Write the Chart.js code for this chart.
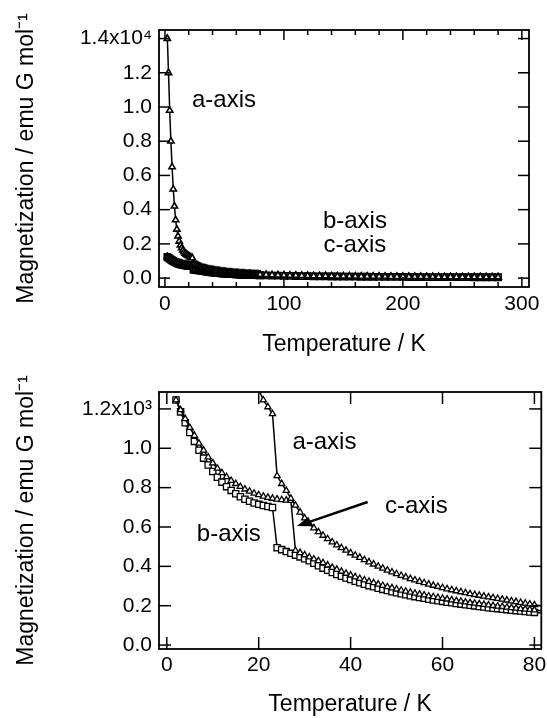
<!DOCTYPE html>
<html>
<head>
<meta charset="utf-8">
<script src="https://cdn.jsdelivr.net/npm/chart.js@4.4.1/dist/chart.umd.min.js"></script>
<style>
  html, body { margin: 0; padding: 0; background: #fff; }
  .panel { position: absolute; left: 0; width: 547px; }
  #top { top: 0; height: 360px; }
  #bottom { top: 360px; height: 358px; }
</style>
</head>
<body>
<div class="panel" id="top"><canvas id="chartTop"></canvas></div>
<div class="panel" id="bottom"><canvas id="chartBottom"></canvas></div>
<script>
// temperature (K)
const temps = [
  2, 3, 4, 5, 6, 7, 8, 9, 10,
  11, 12, 13, 14, 15, 16, 17, 18, 19, 20,
  21, 22, 23, 24, 25, 26, 27, 28, 29, 30,
  31, 32, 33, 34, 35, 36, 37, 38, 39, 40,
  41, 42, 43, 44, 45, 46, 47, 48, 49, 50,
  51, 52, 53, 54, 55, 56, 57, 58, 59, 60,
  61, 62, 63, 64, 65, 66, 67, 68, 69, 70,
  71, 72, 73, 74, 75, 76, 77, 78, 79, 80,
  85, 90, 95, 100, 105, 110, 115, 120, 125, 130,
  135, 140, 145, 150, 155, 160, 165, 170, 175, 180,
  185, 190, 195, 200, 205, 210, 215, 220, 225, 230,
  235, 240, 245, 250, 255, 260, 265, 270, 275, 280
];

// magnetization (emu G mol-1)
const aAxis = [
  14000, 12000, 9800, 8000, 6500, 5200, 4200, 3400, 2850,
  2450, 2150, 1930, 1760, 1630, 1530, 1450, 1390, 1340, 1300,
  1245, 1210, 1175, 860, 820, 785, 745, 710, 675, 645,
  617, 595, 575, 557, 540, 523, 508, 494, 481, 468,
  456, 445, 433, 422, 411, 400, 390, 380, 371, 362,
  353, 345, 337, 330, 323, 316, 309, 303, 297, 291,
  285, 280, 275, 270, 265, 260, 256, 252, 248, 244,
  240, 236, 232, 228, 224, 220, 216, 212, 208, 204,
  192, 181, 172, 163, 155, 148, 142, 136, 130, 125,
  121, 116, 112, 109, 105, 102, 99, 96, 93, 91,
  88, 86, 84, 82, 80, 78, 76, 74, 72, 71,
  69, 68, 67, 65, 64, 63, 62, 60, 59, 58
];
const bAxis = [
  1245, 1185, 1130, 1080, 1035, 990, 950, 915, 882,
  853, 828, 805, 786, 769, 754, 741, 731, 722, 715,
  709, 704, 699, 495, 485, 475, 466, 457, 448, 439,
  428, 416, 403, 391, 380, 369, 359, 350, 341, 333,
  324, 317, 309, 302, 296, 289, 283, 277, 271, 266,
  261, 256, 251, 246, 242, 238, 233, 229, 225, 222,
  218, 215, 211, 208, 205, 202, 199, 196, 193, 190,
  187, 185, 182, 180, 177, 175, 173, 171, 168, 166,
  156, 148, 140, 133, 127, 121, 116, 111, 106, 102,
  99, 95, 92, 89, 86, 83, 81, 78, 76, 74,
  72, 70, 68, 67, 65, 63, 62, 60, 59, 58,
  57, 55, 54, 53, 52, 51, 50, 49, 48, 48
];
const cAxis = [
  1245, 1195, 1150, 1105, 1065, 1025, 990, 955, 925,
  898, 875, 855, 836, 820, 805, 792, 781, 771, 763,
  756, 750, 745, 741, 738, 736, 734, 480, 469, 458,
  447, 437, 428, 418, 406, 394, 384, 374, 364, 355,
  346, 338, 330, 323, 316, 309, 302, 296, 290, 284,
  278, 273, 268, 263, 258, 254, 249, 245, 241, 237,
  233, 229, 225, 222, 218, 215, 212, 209, 206, 203,
  200, 197, 195, 192, 189, 187, 184, 182, 180, 178,
  167, 158, 149, 142, 135, 129, 123, 118, 114, 109,
  105, 101, 98, 95, 92, 89, 86, 84, 81, 79,
  77, 75, 73, 71, 69, 68, 66, 65, 63, 62,
  60, 59, 58, 57, 56, 55, 54, 53, 52, 51
];

// ticks
const topXTicks = [0, 100, 200, 300];
const topXMinor = [20, 40, 60, 80, 120, 140, 160, 180, 220, 240, 260, 280];
const topYTicks = [0, 2000, 4000, 6000, 8000, 10000, 12000, 14000];
const topYLabels = ['0.0', '0.2', '0.4', '0.6', '0.8', '1.0', '1.2', '1.4x10\u2074'];
const botXTicks = [0, 20, 40, 60, 80];
const botYTicks = [0, 200, 400, 600, 800, 1000, 1200];
const botYLabels = ['0.0', '0.2', '0.4', '0.6', '0.8', '1.0', '1.2x10\u00b3'];

const INK = '#000';
const FONT = '"Liberation Sans", Arial, Helvetica, sans-serif';
Chart.defaults.font.family = FONT;
Chart.defaults.color = INK;

const frameTicks = {
  id: 'frameTicks',
  afterDatasetsDraw(chart, args, o) {
    const { ctx, chartArea: a } = chart;
    const x = chart.scales.x, y = chart.scales.y;
    const seg = (x1, y1, x2, y2) => { ctx.beginPath(); ctx.moveTo(x1, y1); ctx.lineTo(x2, y2); ctx.stroke(); };
    ctx.save();
    ctx.strokeStyle = INK;
    ctx.lineWidth = 1.5;
    o.xMajor.forEach(v => {
      const p = x.getPixelForValue(v);
      seg(p, a.bottom, p, a.bottom - o.xLen);
      seg(p, a.top, p, a.top + o.xLen);
    });
    (o.xMinor || []).forEach(v => {
      const p = x.getPixelForValue(v);
      seg(p, a.bottom, p, a.bottom - o.minorLen);
      seg(p, a.top, p, a.top + o.minorLen);
    });
    o.yMajor.forEach(v => {
      const p = y.getPixelForValue(v);
      seg(a.left, p, a.left + o.yLen, p);
      seg(a.right, p, a.right - o.yLen, p);
    });
    ctx.lineWidth = 1.8;
    ctx.strokeRect(a.left, a.top, a.right - a.left, a.bottom - a.top);
    ctx.restore();
  }
};

const notes = {
  id: 'notes',
  afterDraw(chart, args, o) {
    const { ctx } = chart;
    const x = chart.scales.x, y = chart.scales.y;
    ctx.save();
    ctx.fillStyle = INK;
    ctx.strokeStyle = INK;
    ctx.font = '24px ' + FONT;
    ctx.textAlign = 'center';
    ctx.textBaseline = 'middle';
    o.labels.forEach(l => ctx.fillText(l.text, x.getPixelForValue(l.x), y.getPixelForValue(l.y)));
    (o.arrows || []).forEach(ar => {
      const x1 = x.getPixelForValue(ar.from[0]), y1 = y.getPixelForValue(ar.from[1]);
      const x2 = x.getPixelForValue(ar.to[0]), y2 = y.getPixelForValue(ar.to[1]);
      const ang = Math.atan2(y2 - y1, x2 - x1);
      const hl = 14, hw = 5;
      ctx.lineWidth = 2.4;
      ctx.beginPath();
      ctx.moveTo(x1, y1);
      ctx.lineTo(x2 - hl * Math.cos(ang), y2 - hl * Math.sin(ang));
      ctx.stroke();
      ctx.beginPath();
      ctx.moveTo(x2, y2);
      ctx.lineTo(x2 - hl * Math.cos(ang) + hw * Math.sin(ang), y2 - hl * Math.sin(ang) - hw * Math.cos(ang));
      ctx.lineTo(x2 - hl * Math.cos(ang) - hw * Math.sin(ang), y2 - hl * Math.sin(ang) + hw * Math.cos(ang));
      ctx.closePath();
      ctx.fill();
    });
    ctx.restore();
  }
};

function series(vals, style, r, bw) {
  return {
    data: temps.map((t, i) => ({ x: t, y: vals[i] })),
    borderColor: INK,
    borderWidth: 1.5,
    pointStyle: style,
    pointRadius: r,
    pointBorderWidth: bw,
    pointBorderColor: INK,
    pointBackgroundColor: '#fff',
    tension: 0
  };
}

function makeChart(id, cfg) {
  return new Chart(document.getElementById(id), {
    type: 'line',
    data: {
      datasets: [
        series(aAxis, 'triangle', cfg.r, cfg.bw),
        series(cAxis, 'triangle', cfg.r, cfg.bw),
        series(bAxis, 'rect', cfg.r + 0.8, cfg.bw)
      ]
    },
    options: {
      responsive: true,
      maintainAspectRatio: false,
      animation: false,
      layout: { padding: cfg.pad },
      plugins: {
        legend: { display: false },
        tooltip: { enabled: false },
        frameTicks: cfg.frame,
        notes: cfg.notes
      },
      scales: {
        x: {
          type: 'linear',
          min: cfg.xMin, max: cfg.xMax,
          grid: { display: false, drawTicks: false },
          border: { display: false },
          afterBuildTicks: s => { s.ticks = cfg.xTicks.map(v => ({ value: v })); },
          afterFit: s => { s.height = cfg.xHeight; s.paddingLeft = 0; s.paddingRight = 0; },
          ticks: { autoSkip: false, maxRotation: 0, padding: cfg.xTickPad, font: { size: 21 } },
          title: {
            display: true, text: 'Temperature / K',
            font: { size: 23 }, padding: { top: 0, bottom: cfg.xTitlePad }
          }
        },
        y: {
          type: 'linear',
          min: cfg.yMin, max: cfg.yMax,
          grid: { display: false, drawTicks: false },
          border: { display: false },
          afterBuildTicks: s => { s.ticks = cfg.yTicks.map(v => ({ value: v })); },
          afterFit: s => { s.width = 159; s.paddingTop = 0; s.paddingBottom = 0; },
          ticks: {
            autoSkip: false, padding: 7, font: { size: 21 },
            callback: v => cfg.yLabels[cfg.yTicks.indexOf(v)]
          },
          title: {
            display: true, text: 'Magnetization / emu G mol\u207b\u00b9',
            font: { size: 23 }, padding: { top: 13, bottom: 0 }
          }
        }
      }
    },
    plugins: [frameTicks, notes]
  });
}

makeChart('chartTop', {
  r: 3.6, bw: 1.6,
  pad: { top: 30, right: 18, left: 0, bottom: 0 },
  xMin: -5, xMax: 306, yMin: -520, yMax: 14500,
  xTicks: topXTicks, yTicks: topYTicks, yLabels: topYLabels,
  xHeight: 73, xTickPad: 5, xTitlePad: 2,
  frame: { xMajor: topXTicks, xMinor: topXMinor, yMajor: topYTicks, xLen: 10, minorLen: 5, yLen: 11 },
  notes: {
    labels: [
      { text: 'a-axis', x: 49.6, y: 10400 },
      { text: 'b-axis', x: 159.7, y: 3330 },
      { text: 'c-axis', x: 159.7, y: 1930 }
    ]
  }
});

makeChart('chartBottom', {
  r: 3.6, bw: 1.3,
  pad: { top: 32, right: 5, left: 0, bottom: 0 },
  xMin: -1.7, xMax: 81.5, yMin: -20, yMax: 1286,
  xTicks: botXTicks, yTicks: botYTicks, yLabels: botYLabels,
  xHeight: 69, xTickPad: 4, xTitlePad: 0,
  frame: { xMajor: botXTicks, yMajor: botYTicks, xLen: 12, yLen: 12 },
  notes: {
    labels: [
      { text: 'a-axis', x: 34.3, y: 1032 },
      { text: 'b-axis', x: 13.5, y: 564 },
      { text: 'c-axis', x: 54.3, y: 707 }
    ],
    arrows: [{ from: [43.7, 727], to: [28.3, 605] }]
  }
});
</script>
</body>
</html>
